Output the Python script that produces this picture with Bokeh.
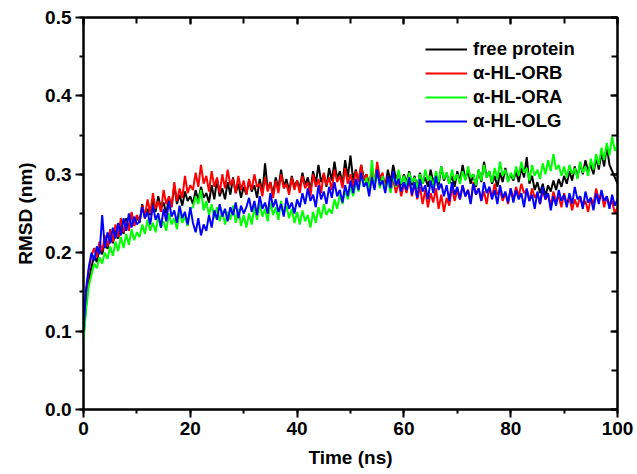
from bokeh.plotting import figure
from bokeh.models import (LinearAxis, SingleIntervalTicker, PrintfTickFormatter,
                          CustomJSTickFormatter, Legend, LegendItem, Range1d,
                          ColumnDataSource)
from bokeh.embed import file_html
from bokeh.resources import INLINE

# ---- data (RMSD in nm, sampled every 0.5 ns) ----
time_ns = [i * 0.5 for i in range(201)]

free_protein = [0.092,
    0.135,0.165,0.182,0.196,0.188,0.206,0.198,0.214,0.205,0.222,0.212,0.228,0.218,0.236,0.224,0.244,0.230,0.250,0.236,0.246,
    0.238,0.262,0.244,0.256,0.248,0.268,0.252,0.272,0.256,0.264,0.250,0.270,0.258,0.286,0.262,0.274,0.260,0.278,0.266,0.272,
    0.262,0.280,0.266,0.284,0.270,0.276,0.264,0.286,0.268,0.294,0.272,0.282,0.268,0.290,0.274,0.296,0.276,0.288,0.270,0.284,
    0.274,0.292,0.278,0.286,0.270,0.294,0.276,0.314,0.280,0.290,0.274,0.296,0.282,0.306,0.284,0.294,0.278,0.298,0.284,0.292,
    0.282,0.302,0.286,0.296,0.280,0.304,0.288,0.312,0.290,0.300,0.284,0.308,0.292,0.316,0.294,0.304,0.288,0.318,0.296,0.324,
    0.292,0.306,0.290,0.312,0.294,0.300,0.286,0.304,0.290,0.310,0.292,0.298,0.284,0.306,0.290,0.312,0.294,0.302,0.286,0.300,
    0.290,0.304,0.286,0.298,0.282,0.302,0.288,0.296,0.284,0.306,0.290,0.300,0.286,0.310,0.292,0.302,0.288,0.298,0.284,0.304,
    0.290,0.312,0.294,0.304,0.288,0.300,0.284,0.306,0.290,0.316,0.296,0.304,0.288,0.298,0.284,0.302,0.290,0.308,0.292,0.300,
    0.292,0.304,0.290,0.308,0.296,0.322,0.288,0.298,0.280,0.290,0.276,0.288,0.272,0.286,0.278,0.292,0.280,0.294,0.284,0.298,
    0.288,0.304,0.292,0.310,0.296,0.314,0.300,0.318,0.304,0.312,0.300,0.322,0.306,0.328,0.310,0.336,0.312,0.304,0.296,0.288]

hl_orb = [0.095,
    0.150,0.178,0.196,0.206,0.194,0.214,0.202,0.222,0.208,0.230,0.214,0.236,0.220,0.244,0.226,0.240,0.228,0.252,0.234,0.248,
    0.240,0.260,0.246,0.268,0.250,0.276,0.256,0.266,0.252,0.280,0.262,0.272,0.258,0.290,0.266,0.282,0.270,0.298,0.276,0.286,
    0.280,0.302,0.284,0.312,0.288,0.298,0.278,0.304,0.284,0.296,0.276,0.300,0.282,0.306,0.286,0.294,0.276,0.298,0.280,0.292,
    0.274,0.294,0.280,0.300,0.284,0.288,0.272,0.296,0.278,0.290,0.270,0.292,0.276,0.300,0.282,0.288,0.274,0.296,0.280,0.292,
    0.276,0.298,0.282,0.290,0.272,0.300,0.284,0.294,0.276,0.302,0.286,0.296,0.280,0.306,0.290,0.298,0.282,0.308,0.288,0.300,
    0.284,0.304,0.290,0.312,0.292,0.300,0.284,0.306,0.288,0.316,0.294,0.302,0.282,0.298,0.278,0.294,0.276,0.290,0.272,0.288,
    0.276,0.294,0.272,0.288,0.268,0.284,0.262,0.280,0.258,0.276,0.264,0.282,0.256,0.274,0.252,0.270,0.260,0.284,0.266,0.280,
    0.268,0.286,0.272,0.280,0.264,0.290,0.274,0.282,0.266,0.278,0.262,0.284,0.270,0.288,0.274,0.280,0.266,0.276,0.262,0.282,
    0.268,0.284,0.272,0.288,0.276,0.280,0.266,0.282,0.270,0.276,0.262,0.280,0.268,0.274,0.260,0.278,0.266,0.272,0.258,0.276,
    0.262,0.270,0.254,0.268,0.258,0.272,0.260,0.266,0.252,0.270,0.262,0.282,0.268,0.276,0.258,0.272,0.260,0.266,0.250,0.258]

hl_ora = [0.088,
    0.128,0.158,0.172,0.186,0.180,0.194,0.186,0.200,0.192,0.208,0.196,0.214,0.202,0.220,0.206,0.224,0.210,0.230,0.216,0.226,
    0.220,0.236,0.224,0.242,0.228,0.238,0.226,0.246,0.232,0.240,0.228,0.250,0.236,0.244,0.230,0.252,0.238,0.246,0.234,0.256,
    0.258,0.272,0.262,0.280,0.254,0.266,0.248,0.262,0.244,0.258,0.240,0.254,0.236,0.252,0.242,0.260,0.238,0.256,0.234,0.248,
    0.232,0.250,0.236,0.258,0.242,0.262,0.246,0.256,0.240,0.264,0.248,0.258,0.242,0.266,0.250,0.260,0.244,0.256,0.238,0.252,
    0.236,0.254,0.240,0.248,0.232,0.252,0.238,0.258,0.244,0.262,0.248,0.256,0.250,0.268,0.256,0.274,0.262,0.280,0.268,0.284,
    0.272,0.290,0.278,0.300,0.284,0.296,0.280,0.318,0.288,0.304,0.282,0.298,0.278,0.294,0.276,0.300,0.284,0.306,0.288,0.298,
    0.286,0.302,0.290,0.296,0.282,0.300,0.288,0.306,0.292,0.298,0.284,0.304,0.290,0.310,0.294,0.302,0.288,0.306,0.292,0.300,
    0.288,0.304,0.292,0.310,0.296,0.300,0.286,0.306,0.292,0.312,0.296,0.304,0.290,0.308,0.294,0.316,0.298,0.306,0.290,0.302,
    0.294,0.310,0.298,0.316,0.302,0.308,0.292,0.312,0.298,0.306,0.294,0.314,0.300,0.318,0.304,0.326,0.306,0.312,0.298,0.310,
    0.296,0.312,0.300,0.308,0.294,0.316,0.302,0.310,0.298,0.320,0.306,0.326,0.312,0.334,0.318,0.340,0.324,0.348,0.330,0.338]

hl_olg = [0.100,
    0.155,0.182,0.200,0.190,0.208,0.198,0.248,0.206,0.226,0.212,0.232,0.218,0.238,0.222,0.244,0.228,0.250,0.232,0.246,0.236,
    0.240,0.258,0.244,0.252,0.236,0.260,0.242,0.250,0.232,0.256,0.240,0.266,0.246,0.254,0.238,0.260,0.244,0.252,0.236,0.258,
    0.238,0.226,0.244,0.222,0.236,0.228,0.248,0.232,0.254,0.242,0.262,0.246,0.256,0.240,0.258,0.248,0.264,0.244,0.260,0.250,
    0.258,0.270,0.252,0.266,0.248,0.272,0.256,0.264,0.250,0.276,0.258,0.268,0.252,0.262,0.246,0.270,0.256,0.264,0.250,0.268,
    0.258,0.276,0.262,0.282,0.266,0.274,0.258,0.286,0.268,0.278,0.262,0.284,0.270,0.290,0.272,0.280,0.264,0.286,0.272,0.292,
    0.276,0.294,0.280,0.302,0.284,0.290,0.272,0.296,0.280,0.306,0.286,0.292,0.276,0.298,0.282,0.304,0.286,0.294,0.278,0.290,
    0.280,0.296,0.274,0.290,0.270,0.294,0.278,0.286,0.268,0.292,0.276,0.298,0.280,0.288,0.272,0.286,0.266,0.290,0.274,0.284,
    0.268,0.286,0.272,0.280,0.262,0.288,0.274,0.282,0.266,0.290,0.276,0.284,0.268,0.280,0.262,0.286,0.270,0.278,0.264,0.282,
    0.264,0.280,0.268,0.276,0.258,0.282,0.266,0.274,0.256,0.278,0.262,0.284,0.268,0.276,0.254,0.272,0.260,0.280,0.266,0.274,
    0.258,0.276,0.262,0.284,0.268,0.272,0.256,0.278,0.264,0.270,0.254,0.276,0.262,0.280,0.266,0.272,0.256,0.274,0.260,0.268]

series_names = ["free protein", "\u03b1-HL-ORB", "\u03b1-HL-ORA", "\u03b1-HL-OLG"]
series_values = [free_protein, hl_orb, hl_ora, hl_olg]
series_colors = ["#000000", "#ff0000", "#00ff00", "#0000ff"]

FONT = "Liberation Sans"

p = figure(width=637, height=474, output_backend="svg", toolbar_location=None,
           x_range=Range1d(0, 100), y_range=Range1d(0, 0.5),
           min_border_left=83, min_border_right=20, min_border_top=17, min_border_bottom=65)
p.xgrid.visible = False
p.ygrid.visible = False
p.outline_line_color = "black"
p.outline_line_width = 2
p.background_fill_color = "white"
p.border_fill_color = "white"

renderers = []
for name, vals, col in zip(series_names, series_values, series_colors):
    src = ColumnDataSource(dict(t=time_ns, v=vals))
    r = p.line("t", "v", source=src, line_color=col, line_width=2)
    renderers.append((name, r))

def style_axis(ax, show_labels):
    ax.axis_line_width = 2
    ax.axis_line_color = "black"
    ax.major_tick_line_width = 2
    ax.minor_tick_line_width = 2
    ax.major_tick_line_color = "black"
    ax.minor_tick_line_color = "black"
    ax.major_label_text_font = FONT
    ax.major_label_text_font_style = "bold"
    ax.major_label_text_font_size = "19px"
    ax.major_label_text_color = "black"
    ax.axis_label_text_font = FONT
    ax.axis_label_text_font_style = "bold"
    ax.axis_label_text_font_size = "19px"
    ax.axis_label_text_color = "black"
    if show_labels:
        ax.major_tick_out = 8
        ax.major_tick_in = 0
        ax.minor_tick_out = 4
        ax.minor_tick_in = 0
    else:
        ax.major_tick_out = 0
        ax.major_tick_in = 7
        ax.minor_tick_out = 0
        ax.minor_tick_in = 6
        ax.formatter = CustomJSTickFormatter(code="return ''")
        ax.major_label_standoff = 0

xax = p.xaxis[0]
xax.ticker = SingleIntervalTicker(interval=20, num_minor_ticks=2)
xax.axis_label = "Time (ns)"
style_axis(xax, True)
xax.major_label_standoff = 4
xax.axis_label_standoff = 9

yax = p.yaxis[0]
yax.ticker = SingleIntervalTicker(interval=0.1, num_minor_ticks=2)
yax.formatter = PrintfTickFormatter(format="%.1f")
yax.axis_label = "RMSD (nm)"
style_axis(yax, True)
yax.major_label_standoff = 4
yax.axis_label_standoff = 6

top_ax = LinearAxis(ticker=SingleIntervalTicker(interval=20, num_minor_ticks=2))
style_axis(top_ax, False)
p.add_layout(top_ax, "above")

right_ax = LinearAxis(ticker=SingleIntervalTicker(interval=0.1, num_minor_ticks=2))
style_axis(right_ax, False)
p.add_layout(right_ax, "right")

legend = Legend(items=[LegendItem(label=n, renderers=[r]) for n, r in renderers],
                location=(342, 277), padding=0, margin=0, spacing=2,
                glyph_width=42, glyph_height=20, label_height=20, label_standoff=6,
                border_line_alpha=0, background_fill_alpha=0,
                label_text_font=FONT, label_text_font_style="bold",
                label_text_font_size="18.5px", label_text_color="black")
p.add_layout(legend)

open("out.html", "w").write(file_html(p, INLINE))
